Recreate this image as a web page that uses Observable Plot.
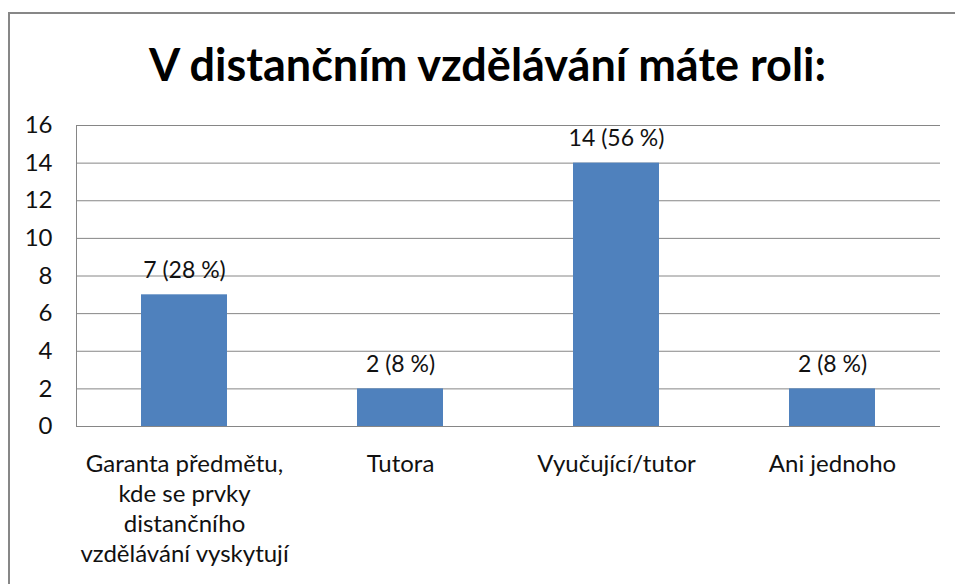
<!DOCTYPE html>
<html><head><meta charset="utf-8">
<script src="https://cdn.jsdelivr.net/npm/d3@7"></script>
<script src="https://cdn.jsdelivr.net/npm/@observablehq/plot@0.6"></script>
<style>
body{margin:0;background:#fff;}
#wrap{position:relative;width:955px;height:584px;overflow:hidden;font-family:Lato,"Open Sans",sans-serif;}
#border{position:absolute;left:8px;top:12px;width:960px;height:600px;border:2px solid #878787;box-sizing:border-box;}
#title{position:absolute;left:0;top:0;width:975px;height:100px;text-align:center;font-weight:bold;font-size:45px;line-height:1;padding-top:42px;box-sizing:border-box;color:#000;}
#chart{position:absolute;left:0;top:100px;}
</style></head>
<body><div id="wrap"><div id="border"></div><div id="title">V distančním vzdělávání máte roli:</div><div id="chart"></div></div>
<script>
const categories = ["Garanta předmětu, kde se prvky distančního vzdělávání vyskytují","Tutora","Vyučující/tutor","Ani jednoho"];
const tickLabels = ["Garanta předmětu,\nkde se prvky\ndistančního\nvzdělávání vyskytují","Tutora","Vyučující/tutor","Ani jednoho"];
const counts = [7,2,14,2];
const percents = [28,8,56,8];
const yTicks = [0,2,4,6,8,10,12,14,16];

const data = categories.map((c,i)=>({cat:c,value:counts[i],label:`${counts[i]} (${percents[i]} %)`}));
const labelOf = new Map(categories.map((c,i)=>[c,tickLabels[i]]));

const plot = Plot.plot({
  width:955, height:484,
  marginLeft:76, marginRight:15, marginTop:25, marginBottom:158,
  style:{fontFamily:"Lato, 'Open Sans', sans-serif", background:"transparent", color:"#000"},
  x:{domain:categories, paddingInner:0.6, paddingOuter:0.3, label:null},
  y:{domain:[0,16], ticks:yTicks, label:null},
  marks:[
    Plot.gridY(yTicks.filter(d=>d>0),{stroke:"#868686",strokeOpacity:1,strokeWidth:1}),
    Plot.ruleY([0],{stroke:"#868686",strokeWidth:1}),
    Plot.frame({anchor:"left",stroke:"#868686",strokeWidth:1}),
    Plot.barY(data,{x:"cat",y:"value",fill:"#4F81BD"}),
    Plot.text(data,{x:"cat",y:"value",text:"label",lineAnchor:"bottom",dy:-17,fontSize:23,fill:"#111"}),
    Plot.axisY({ticks:yTicks,tickSize:0,tickPadding:24,fontSize:24,label:null,color:"#111"}),
    Plot.axisX({tickSize:0,tickPadding:24,fontSize:24,lineHeight:1.25,label:null,tickFormat:d=>labelOf.get(d),color:"#111"})
  ]
});
document.getElementById("chart").appendChild(plot);
</script></body></html>
